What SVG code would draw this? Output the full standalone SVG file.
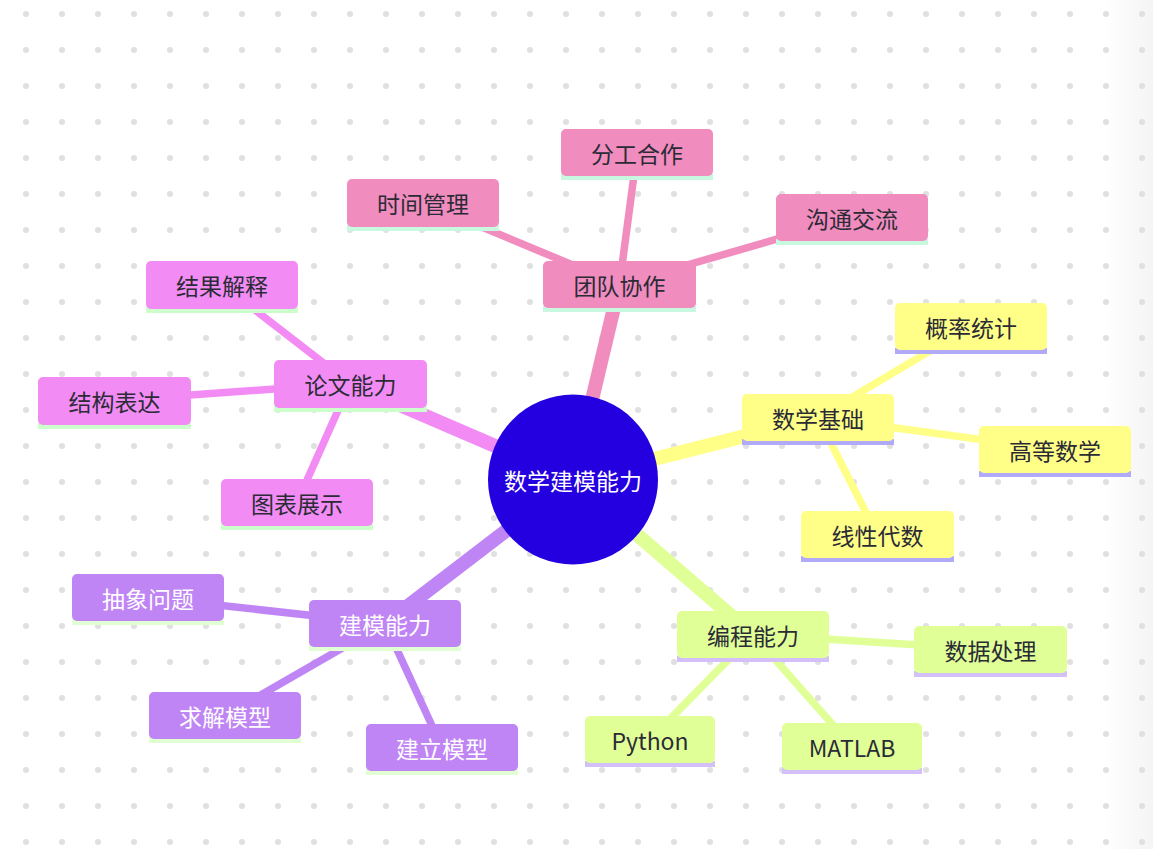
<svg xmlns="http://www.w3.org/2000/svg" width="1153" height="849" viewBox="0 0 1153 849">
<defs>
<pattern id="dots" x="8" y="-4" width="36" height="36" patternUnits="userSpaceOnUse">
<circle cx="18" cy="18" r="3" fill="#e0e0e0"/>
</pattern>
<linearGradient id="edge" x1="0" y1="0" x2="1" y2="0">
<stop offset="0" stop-color="#ffffff"/>
<stop offset="1" stop-color="#f4f4f4"/>
</linearGradient>
<style>
text{font-family:"Noto Sans CJK SC","Noto Sans",sans-serif;font-size:23px;text-anchor:middle;dominant-baseline:central;fill:#2b2b36}
.w text{fill:#ffffff}
.main{stroke-width:14;fill:none}
.leaf{stroke-width:7.5;fill:none}
.pk{stroke:#f08cbe}.yl{stroke:#ffff88}.lm{stroke:#e0ff96}.pu{stroke:#bf85f5}.mg{stroke:#f28cf4}
.fpk{fill:#f08cbe}.fyl{fill:#ffff88}.flm{fill:#e0ff96}.fpu{fill:#bf85f5}.fmg{fill:#f28cf4}
.bpk{fill:#c8f8e0}.byl{fill:#b0aaf8}.blm{fill:#d4c0f8}.bpu{fill:#e2ffd4}.bmg{fill:#ccffcc}
</style>
</defs>
<rect width="1153" height="849" fill="#ffffff"/>
<rect x="1105" y="0" width="48" height="849" fill="url(#edge)"/>
<rect width="1153" height="849" fill="url(#dots)"/>

<g id="connectors" stroke-linecap="butt">
<line class="main pk" x1="573" y1="479.5" x2="619.5" y2="284.5"/>
<line class="main yl" x1="573" y1="479.5" x2="818" y2="417.5"/>
<line class="main lm" x1="573" y1="479.5" x2="753" y2="634.5"/>
<line class="main mg" x1="573" y1="479.5" x2="350" y2="383.5"/>
<line class="main pu" x1="573" y1="479.5" x2="385" y2="623.5"/>
<line class="leaf pk" x1="619.5" y1="284.5" x2="637" y2="152.5"/>
<line class="leaf pk" x1="619.5" y1="284.5" x2="423" y2="202.5"/>
<line class="leaf pk" x1="619.5" y1="284.5" x2="852" y2="217.5"/>
<line class="leaf yl" x1="818" y1="417.5" x2="971" y2="326.5"/>
<line class="leaf yl" x1="818" y1="417.5" x2="1055" y2="449.5"/>
<line class="leaf yl" x1="818" y1="417.5" x2="877" y2="534.5"/>
<line class="leaf lm" x1="753" y1="634.5" x2="990" y2="649.5"/>
<line class="leaf lm" x1="753" y1="634.5" x2="650" y2="739.5"/>
<line class="leaf lm" x1="753" y1="634.5" x2="852" y2="746.5"/>
<line class="leaf mg" x1="350" y1="383.5" x2="222" y2="284.5"/>
<line class="leaf mg" x1="350" y1="383.5" x2="114" y2="400.5"/>
<line class="leaf mg" x1="350" y1="383.5" x2="297" y2="502.5"/>
<line class="leaf pu" x1="385" y1="623.5" x2="148" y2="597.5"/>
<line class="leaf pu" x1="385" y1="623.5" x2="225" y2="715.5"/>
<line class="leaf pu" x1="385" y1="623.5" x2="442" y2="747.5"/>
</g>

<g id="root">
<circle cx="573" cy="479.5" r="85" fill="#2400e0"/>
<text x="573" y="479.5" fill="#ffffff" style="fill:#ffffff">数学建模能力</text>
</g>

<g id="n-team"><rect class="bpk" x="543" y="306" width="153" height="6"/><rect class="fpk" x="543" y="261" width="153" height="47" rx="5"/><text x="619.5" y="285">团队协作</text></g>
<g id="n-fengong"><rect class="bpk" x="561" y="174" width="152" height="6"/><rect class="fpk" x="561" y="129" width="152" height="47" rx="5"/><text x="637" y="153">分工合作</text></g>
<g id="n-time"><rect class="bpk" x="347" y="225" width="152" height="6"/><rect class="fpk" x="347" y="179" width="152" height="48" rx="5"/><text x="423" y="203">时间管理</text></g>
<g id="n-comm"><rect class="bpk" x="776" y="239" width="152" height="6"/><rect class="fpk" x="776" y="194" width="152" height="47" rx="5"/><text x="852" y="218">沟通交流</text></g>

<g id="n-math"><rect class="byl" x="742" y="439" width="152" height="6"/><rect class="fyl" x="742" y="394" width="152" height="47" rx="5"/><text x="818" y="418">数学基础</text></g>
<g id="n-prob"><rect class="byl" x="895" y="348" width="152" height="6"/><rect class="fyl" x="895" y="303" width="152" height="47" rx="5"/><text x="971" y="327">概率统计</text></g>
<g id="n-adv"><rect class="byl" x="979" y="471" width="152" height="6"/><rect class="fyl" x="979" y="426" width="152" height="47" rx="5"/><text x="1055" y="450">高等数学</text></g>
<g id="n-linear"><rect class="byl" x="801" y="556" width="153" height="6"/><rect class="fyl" x="801" y="511" width="153" height="47" rx="5"/><text x="877.5" y="535">线性代数</text></g>

<g id="n-prog"><rect class="blm" x="677" y="656" width="152" height="6"/><rect class="flm" x="677" y="611" width="152" height="47" rx="5"/><text x="753" y="635">编程能力</text></g>
<g id="n-data"><rect class="blm" x="914" y="671" width="153" height="6"/><rect class="flm" x="914" y="626" width="153" height="47" rx="5"/><text x="990.5" y="650">数据处理</text></g>
<g id="n-python"><rect class="blm" x="585" y="761" width="130" height="6"/><rect class="flm" x="585" y="716" width="130" height="47" rx="5"/><text x="650" y="740">Python</text></g>
<g id="n-matlab"><rect class="blm" x="782" y="768" width="140" height="6"/><rect class="flm" x="782" y="723" width="140" height="47" rx="5"/><text x="852" y="747">MATLAB</text></g>

<g id="n-paper"><rect class="bmg" x="274" y="406" width="153" height="6"/><rect class="fmg" x="274" y="360" width="153" height="48" rx="5"/><text x="350.5" y="384">论文能力</text></g>
<g id="n-result"><rect class="bmg" x="146" y="307" width="152" height="6"/><rect class="fmg" x="146" y="261" width="152" height="48" rx="5"/><text x="222" y="285">结果解释</text></g>
<g id="n-struct"><rect class="bmg" x="38" y="423" width="153" height="6"/><rect class="fmg" x="38" y="377" width="153" height="48" rx="5"/><text x="114.5" y="401">结构表达</text></g>
<g id="n-chart"><rect class="bmg" x="221" y="524" width="152" height="6"/><rect class="fmg" x="221" y="479" width="152" height="47" rx="5"/><text x="297" y="503">图表展示</text></g>

<g class="w">
<g id="n-model"><rect class="bpu" x="309" y="645" width="152" height="6"/><rect class="fpu" x="309" y="600" width="152" height="47" rx="5"/><text x="385" y="624">建模能力</text></g>
<g id="n-abstract"><rect class="bpu" x="72" y="619" width="152" height="6"/><rect class="fpu" x="72" y="574" width="152" height="47" rx="5"/><text x="148" y="598">抽象问题</text></g>
<g id="n-solve"><rect class="bpu" x="149" y="737" width="152" height="6"/><rect class="fpu" x="149" y="692" width="152" height="47" rx="5"/><text x="225" y="716">求解模型</text></g>
<g id="n-build"><rect class="bpu" x="366" y="769" width="152" height="6"/><rect class="fpu" x="366" y="724" width="152" height="47" rx="5"/><text x="442" y="748">建立模型</text></g>
</g>
</svg>
